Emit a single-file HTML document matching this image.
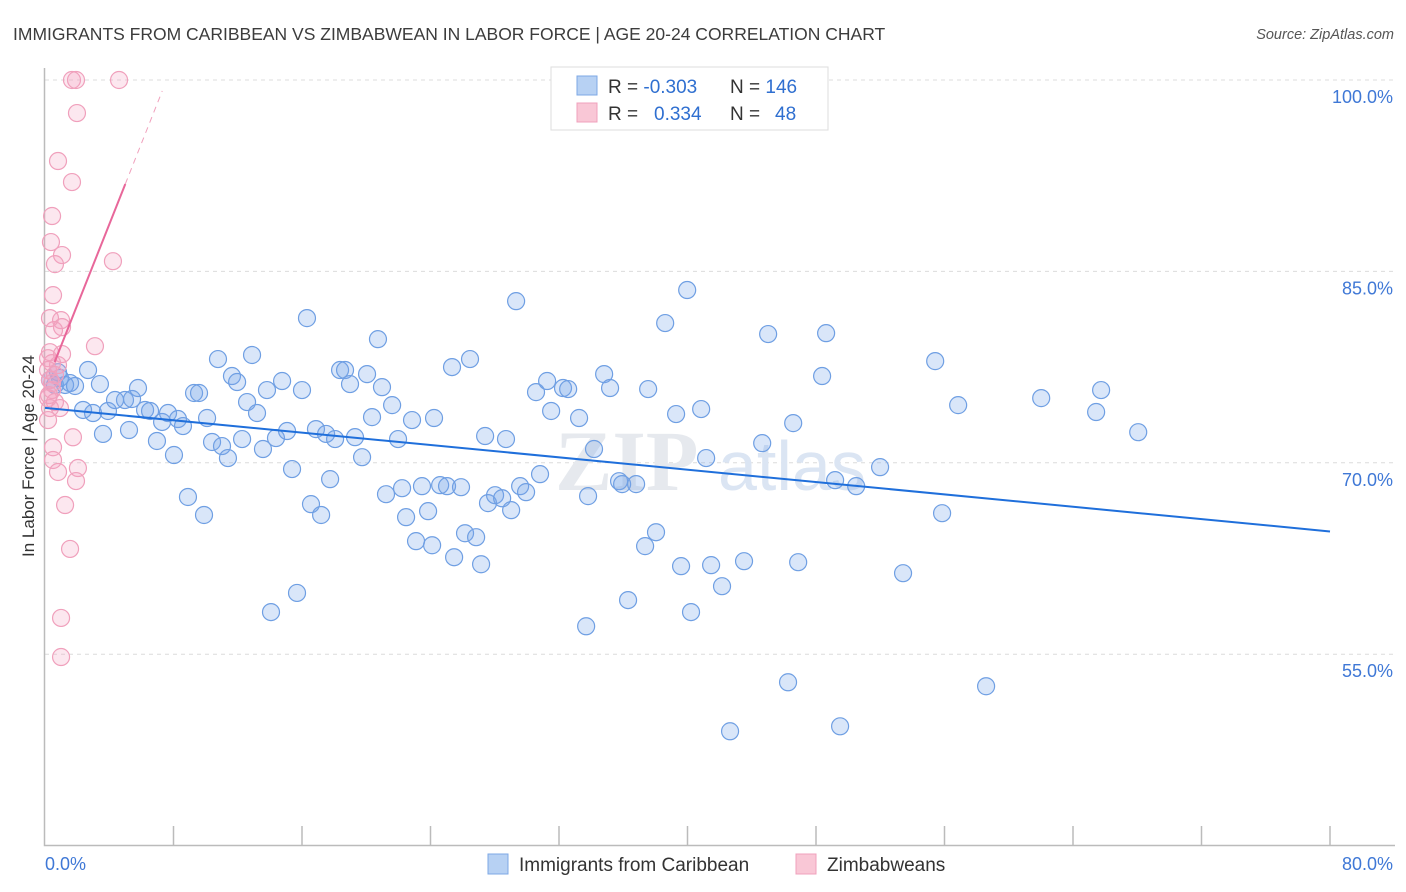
<!DOCTYPE html>
<html><head><meta charset="utf-8">
<style>
body{margin:0;background:#fff;font-family:"Liberation Sans",sans-serif;}
svg{display:block}
</style></head>
<body>
<svg id="chart" width="1406" height="892" xmlns="http://www.w3.org/2000/svg">
<text x="13" y="40" font-size="17.5" fill="#3c3c3c">IMMIGRANTS FROM CARIBBEAN VS ZIMBABWEAN IN LABOR FORCE | AGE 20-24 CORRELATION CHART</text>
<text x="1394" y="39" font-size="14.5" fill="#555" font-style="italic" text-anchor="end">Source: ZipAtlas.com</text>
<g id="grid"></g>
<text x="555" y="490" font-size="86" fill="#e6e9ee" font-family="Liberation Serif" font-weight="bold">ZIP</text>
<text x="718" y="490" font-size="70" fill="#dbe5f3">atlas</text>
<g id="marks"></g>
<text transform="translate(34,456) rotate(-90)" font-size="17" fill="#333" text-anchor="middle">In Labor Force | Age 20-24</text>
<g>
<rect x="551" y="67" width="277" height="63" fill="#fff" stroke="#ddd"/>
<rect x="577" y="76" width="20" height="19" fill="#b7d1f3" stroke="#7ea8e6"/>
<rect x="577" y="103" width="20" height="19" fill="#f9c7d6" stroke="#f0a0bc"/>
<text x="608" y="93" font-size="19" fill="#333">R = <tspan fill="#2f6fd0">-0.303</tspan></text>
<text x="730" y="93" font-size="19" fill="#333">N = <tspan fill="#2f6fd0">146</tspan></text>
<text x="608" y="120" font-size="19" fill="#333">R = <tspan fill="#2f6fd0" x="654">0.334</tspan></text>
<text x="730" y="120" font-size="19" fill="#333">N = <tspan fill="#2f6fd0" x="775">48</tspan></text>
</g>
<g>
<rect x="488" y="854" width="20" height="20" fill="#b7d1f3" stroke="#7ea8e6"/>
<text x="519" y="871" font-size="19" fill="#333">Immigrants from Caribbean</text>
<rect x="796" y="854" width="20" height="20" fill="#f9c7d6" stroke="#f0a0bc"/>
<text x="827" y="871" font-size="19" fill="#333">Zimbabweans</text>
</g>
</svg>
<script>
const blueX=[2.68,3.42,4.98,3.92,2.99,2.37,4.36,5.42,3.61,5.79,5.23,6.23,6.54,6.97,7.29,7.66,8.03,8.28,8.59,8.9,9.28,9.59,9.9,10.09,10.4,10.77,11.02,11.39,11.64,11.96,12.27,12.58,12.89,13.2,13.57,13.82,14.07,14.38,14.76,15.07,15.38,15.69,16.0,16.31,16.56,16.87,17.19,17.5,17.75,18.06,18.37,18.68,18.99,19.3,19.74,20.05,20.36,20.73,20.98,21.23,21.61,21.98,22.23,22.48,22.85,23.1,23.47,23.85,24.1,24.22,24.6,25.03,25.47,25.34,25.9,26.15,26.46,26.84,27.15,27.4,27.58,28.02,28.46,28.7,29.02,29.33,29.58,29.95,30.57,30.82,31.26,31.51,32.25,32.57,33.25,33.69,33.81,34.18,34.81,35.18,35.74,35.93,36.3,36.8,37.36,37.55,38.04,38.61,39.29,39.6,39.98,40.22,40.85,41.16,41.47,42.15,42.65,43.52,44.65,45.02,46.26,46.58,46.89,48.38,48.63,49.19,49.5,50.5,51.99,53.42,55.42,55.85,56.85,58.59,62.02,65.44,65.75,68.06,0.31,0.62,0.93,1.25,1.56,1.87,0.81];
const blueY=[77.27,76.17,74.92,74.06,73.9,74.14,74.92,75.0,72.26,75.86,72.57,74.14,74.06,71.71,73.2,73.9,70.61,73.43,72.88,67.32,75.47,75.47,65.91,73.51,71.63,78.13,71.31,70.37,76.8,76.33,71.86,74.76,78.45,73.9,71.08,75.7,58.3,71.94,76.41,72.49,69.51,59.8,75.7,81.34,66.76,72.64,65.91,72.26,68.72,71.86,77.27,77.27,76.17,72.01,70.44,76.95,73.58,79.69,75.93,67.54,74.52,71.86,68.01,65.74,73.35,63.86,68.17,66.21,63.54,73.51,68.25,68.17,62.6,77.5,68.09,64.48,78.13,64.17,62.05,72.1,66.84,67.46,67.22,71.86,66.29,82.67,68.17,67.7,75.54,69.11,76.41,74.06,75.86,75.78,73.51,57.19,67.39,71.08,76.95,75.86,68.56,68.33,59.24,68.33,63.47,75.78,64.56,80.95,73.82,61.9,83.54,58.3,74.21,70.37,61.98,60.33,48.96,62.29,71.54,80.09,52.8,73.11,62.21,76.8,80.16,68.64,49.35,68.17,69.66,61.35,77.97,66.05,74.52,52.49,75.07,73.98,75.7,72.4,76.49,76.1,76.65,76.1,76.25,76.02,77.1];
const pinkX=[1.68,1.93,4.61,1.99,0.81,1.68,0.44,0.37,1.06,4.23,0.62,0.5,0.31,1.0,1.06,0.56,3.11,0.31,1.06,0.19,0.44,0.81,0.19,0.62,0.31,0.44,0.19,0.62,0.31,0.93,0.5,1.74,0.5,0.81,2.05,1.93,1.25,1.56,1.0,1.0,0.19,0.44,0.25];
const pinkY=[100,100,100,97.41,93.65,92.0,89.34,87.3,86.28,85.8,85.57,83.14,81.34,81.18,80.63,80.4,79.14,78.67,78.52,78.2,77.81,77.66,77.27,76.88,76.49,75.7,75.07,74.76,74.29,74.29,71.22,72.0,70.22,69.28,69.59,68.57,66.69,63.25,57.84,54.78,73.35,76.25,75.31];
const blueTrend=[74.3,-0.121];   // intercept, slope
const pinkTrend=[76.0,3.17];
const yTicks=[100,85,70,55];
const xTickLabels=["0.0%","80.0%"];

const NS="http://www.w3.org/2000/svg";
const X0=45,X1=1330,Y100=80,PXY=12.76;
const sx=v=>X0+(v/80)*(X1-X0);
const sy=v=>Y100+(100-v)*PXY;
function mk(tag,attrs,parent){const e=document.createElementNS(NS,tag);for(const k in attrs)e.setAttribute(k,attrs[k]);parent.appendChild(e);return e;}
const grid=document.getElementById('grid'),marks=document.getElementById('marks');
yTicks.forEach(t=>{
  const l=mk('line',{x1:45,x2:1395,y1:sy(t),y2:sy(t),stroke:'#dcdcdc','stroke-dasharray':'4,4'},grid);
  
  
  const tx=mk('text',{x:1393,y:sy(t)+23,'font-size':18,fill:'#3f78d6','text-anchor':'end'},grid);
  tx.textContent=t.toFixed(1)+'%';
  
  
});
const ax=mk('path',{d:'M44.5 68 V845.5 H1395',stroke:'#bbb',fill:'none','stroke-width':1.5},grid);


for(let i=1;i<=10;i++){
  const x=sx(i*8);
  const t=mk('line',{x1:x,x2:x,y1:826,y2:845,stroke:'#bbb','stroke-width':1.5},grid);
  
  
}
[[0,'start',45],[80,'end',1393]].forEach((p,i)=>{
  const tx=mk('text',{x:p[2],y:870,'font-size':18,fill:'#3f78d6','text-anchor':p[1]},grid);
  tx.textContent=xTickLabels[i];
  
  
});
blueX.forEach((x,i)=>{
  const c=mk('circle',{cx:sx(x),cy:sy(blueY[i]),r:8.5,fill:'rgba(120,165,235,0.28)',stroke:'#6f9fe3','stroke-width':1.2},marks);
  
  
});
pinkX.forEach((x,i)=>{
  const c=mk('circle',{cx:sx(x),cy:sy(pinkY[i]),r:8.5,fill:'rgba(245,160,190,0.25)',stroke:'#f0a0bc','stroke-width':1.2},marks);
  
  
});
const bl=mk('line',{x1:sx(0),y1:sy(blueTrend[0]),x2:sx(80),y2:sy(blueTrend[0]+80*blueTrend[1]),stroke:'#1f6fdb','stroke-width':2},marks);


const pl=mk('line',{x1:sx(0.6),y1:sy(pinkTrend[0]+0.6*pinkTrend[1]),x2:sx(5),y2:sy(pinkTrend[0]+5*pinkTrend[1]),stroke:'#e8679a','stroke-width':2},marks);


const pd=mk('line',{x1:sx(5),y1:sy(pinkTrend[0]+5*pinkTrend[1]),x2:sx(7.3),y2:sy(pinkTrend[0]+7.3*pinkTrend[1]),stroke:'#f0a0bc','stroke-width':1,'stroke-dasharray':'6,5'},marks);


</script>
</body></html>
